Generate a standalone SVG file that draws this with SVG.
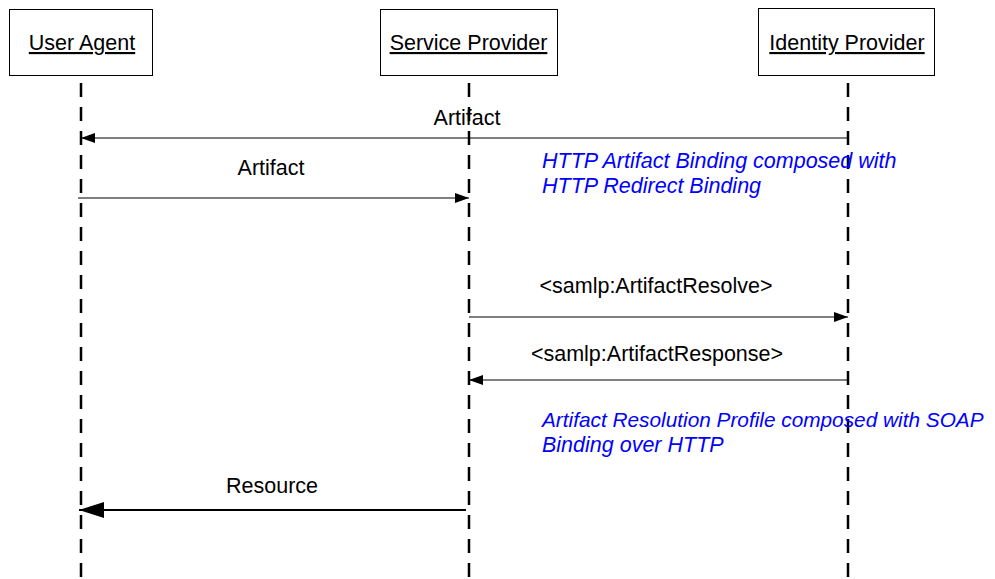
<svg xmlns="http://www.w3.org/2000/svg" width="995" height="579" viewBox="0 0 995 579">
<style>
.box{fill:#fff;stroke:#000;stroke-width:1}
.lbl{font-family:"Liberation Sans",Arial,sans-serif;font-size:21.5px;fill:#000}
.life{stroke:#000;stroke-width:2.5;stroke-dasharray:14 10;fill:none}
.msg{stroke:#000;stroke-width:1.2;fill:none}
.note{font-family:"Liberation Sans",Arial,sans-serif;font-size:21.5px;font-style:italic;fill:#0000ff}
</style>
<defs>
<marker id="ah" viewBox="0 0 14 10" refX="14" refY="5" markerWidth="14" markerHeight="10" markerUnits="userSpaceOnUse" orient="auto"><path d="M0,0 L14,5 L0,10 Z" fill="#000"/></marker>
<marker id="ahb" viewBox="0 0 25 16" refX="25" refY="8" markerWidth="25" markerHeight="16" markerUnits="userSpaceOnUse" orient="auto"><path d="M0,0 L25,8 L0,16 Z" fill="#000"/></marker>
</defs>
<rect width="995" height="579" fill="#fff"/>
<g id="lifelines">
<line class="life" x1="81" y1="83" x2="81" y2="579"/>
<line class="life" x1="469" y1="83" x2="469" y2="579"/>
<line class="life" x1="848" y1="83" x2="848" y2="579"/>
</g>
<g id="user-agent"><rect class="box" x="9.5" y="9.5" width="143" height="66"/><text class="lbl" x="82" y="50" text-anchor="middle" text-decoration="underline">User Agent</text></g>
<g id="service-provider"><rect class="box" x="380.5" y="9.5" width="177" height="66"/><text class="lbl" x="468.5" y="50" text-anchor="middle" text-decoration="underline">Service Provider</text></g>
<g id="identity-provider"><rect class="box" x="758.5" y="8.5" width="176" height="67"/><text class="lbl" x="847" y="50" text-anchor="middle" text-decoration="underline">Identity Provider</text></g>
<g id="connectors">
<line class="msg" x1="848" y1="138" x2="81" y2="138" marker-end="url(#ah)"/>
<text class="lbl" x="467" y="125" text-anchor="middle">Artifact</text>
<line class="msg" x1="78" y1="198" x2="469" y2="198" marker-end="url(#ah)"/>
<text class="lbl" x="271" y="175" text-anchor="middle">Artifact</text>
<line class="msg" x1="469" y1="317" x2="848" y2="317" marker-end="url(#ah)"/>
<text class="lbl" x="656" y="293" text-anchor="middle">&lt;samlp:ArtifactResolve&gt;</text>
<line class="msg" x1="848" y1="380" x2="469" y2="380" marker-end="url(#ah)"/>
<text class="lbl" x="657" y="361" text-anchor="middle">&lt;samlp:ArtifactResponse&gt;</text>
<line class="msg" style="stroke-width:2" x1="466" y1="510" x2="79" y2="510" marker-end="url(#ahb)"/>
<text class="lbl" x="272" y="493" text-anchor="middle">Resource</text>
</g>
<g id="notes">
<text class="note" x="542" y="168">HTTP Artifact Binding composed with</text>
<text class="note" x="542" y="193">HTTP Redirect Binding</text>
<text class="note" x="542" y="427" style="font-size:20.8px">Artifact Resolution Profile composed with SOAP</text>
<text class="note" x="542" y="452">Binding over HTTP</text>
</g>
</svg>
